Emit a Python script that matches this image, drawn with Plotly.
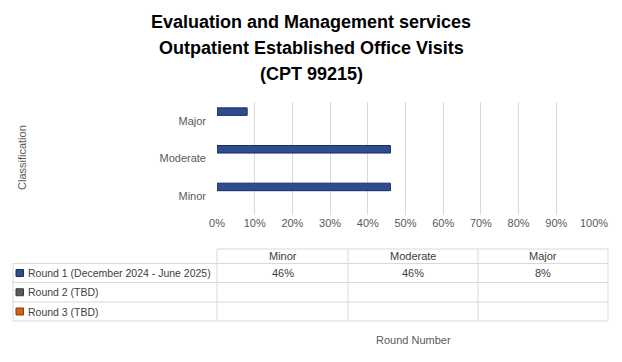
import plotly.graph_objects as go

W, H = 622, 362

categories = ["Minor", "Moderate", "Major"]
round_names = ["Round 1 (December 2024 - June 2025)", "Round 2 (TBD)", "Round 3 (TBD)"]
round1_values = [46, 46, 8]
round2_values = [None, None, None]
round3_values = [None, None, None]
round_colors = ["#2E4D8E", "#595959", "#D0601A"]
round_edges = ["#1B2D5A", "#3A3A3A", "#8A3A0A"]
x_ticks = list(range(0, 101, 10))
title_lines = ["Evaluation and Management services",
               "Outpatient Established Office Visits",
               "(CPT 99215)"]

def px(x):
    return x / W

def py(y):
    return 1 - y / H

series = [round1_values, round2_values, round3_values]
offsets = [0.145, -0.105, -0.355]

fig = go.Figure()
for name, vals, col, edge, off in zip(round_names, series, round_colors, round_edges, offsets):
    fig.add_trace(go.Bar(
        y=categories, x=vals, orientation="h", name=name,
        marker=dict(color=col, line=dict(color=edge, width=1)),
        width=0.2, offset=off, showlegend=False, hoverinfo="skip",
    ))

grid = "#D9D9D9"
tick_col = "#595959"
font_fam = "Liberation Sans, Arial, sans-serif"
title_fam = "Liberation Sans Narrow, Liberation Sans, Arial, sans-serif"

fig.update_layout(
    width=W, height=H, autosize=False,
    margin=dict(l=0, r=0, t=0, b=0, pad=0, autoexpand=False),
    paper_bgcolor="white", plot_bgcolor="white",
    barmode="overlay",
    font=dict(family=font_fam, size=11, color=tick_col),
    xaxis=dict(domain=[px(217), px(594)], range=[0, 100], automargin=False,
               tickvals=x_ticks, ticktext=[f"{v}%" for v in x_ticks],
               showgrid=True, gridcolor=grid, gridwidth=1,
               zeroline=False, showline=False, ticks="",
               tickfont=dict(size=11, color=tick_col), fixedrange=True),
    yaxis=dict(domain=[py(215), py(102)], range=[-0.5, 2.5], automargin=False,
               categoryorder="array", categoryarray=categories,
               showgrid=False, zeroline=False, showline=False, ticks="",
               ticklabelstandoff=10,
               tickfont=dict(size=11, color=tick_col), fixedrange=True),
)

annotations = []
for i, line in enumerate(title_lines):
    annotations.append(dict(
        x=px(311), y=py(22 + 26.2 * i), xref="paper", yref="paper",
        text=f"<b>{line}</b>", showarrow=False, xanchor="center", yanchor="middle",
        font=dict(family=title_fam, size=18, color="#000000")))

annotations.append(dict(
    x=px(22), y=py(158), xref="paper", yref="paper", text="Classification",
    showarrow=False, textangle=-90, xanchor="center", yanchor="middle",
    font=dict(size=11, color=tick_col)))

annotations.append(dict(
    x=px(413), y=py(340), xref="paper", yref="paper", text="Round Number",
    showarrow=False, xanchor="center", yanchor="middle",
    font=dict(size=11, color=tick_col)))

# data table
col_edges = [13, 217, 348, 478, 608]
row_edges = [249, 263.5, 282.5, 302, 321]
shapes = []
line_style = dict(color="#D9D9D9", width=1)
for y in row_edges:
    x0 = 217 if y == row_edges[0] else 13
    shapes.append(dict(type="line", xref="paper", yref="paper",
                       x0=px(x0), x1=px(608), y0=py(y), y1=py(y), line=line_style))
for x in col_edges:
    y0 = 263.5 if x == 13 else 249
    shapes.append(dict(type="line", xref="paper", yref="paper",
                       x0=px(x), x1=px(x), y0=py(y0), y1=py(321), line=line_style))

text_col = "#404040"
for j, cat in enumerate(categories):
    cx = (col_edges[j + 1] + col_edges[j + 2]) / 2
    annotations.append(dict(
        x=px(cx), y=py((row_edges[0] + row_edges[1]) / 2), xref="paper", yref="paper",
        text=cat, showarrow=False, xanchor="center", yanchor="middle",
        font=dict(size=11, color=text_col)))

for i, (name, vals, col, edge) in enumerate(zip(round_names, series, round_colors, round_edges)):
    cy = (row_edges[i + 1] + row_edges[i + 2]) / 2
    shapes.append(dict(type="rect", xref="paper", yref="paper",
                       x0=px(16), x1=px(23.5), y0=py(cy + 3.5), y1=py(cy - 3.5),
                       fillcolor=col, line=dict(color=edge, width=1)))
    annotations.append(dict(
        x=px(26), y=py(cy), xref="paper", yref="paper", text=name,
        showarrow=False, xanchor="left", yanchor="middle",
        font=dict(size=10.5, color=text_col)))
    for j, v in enumerate(vals):
        if v is None:
            continue
        cx = (col_edges[j + 1] + col_edges[j + 2]) / 2
        annotations.append(dict(
            x=px(cx), y=py(cy), xref="paper", yref="paper", text=f"{v}%",
            showarrow=False, xanchor="center", yanchor="middle",
            font=dict(size=11, color=text_col)))

fig.update_layout(annotations=annotations, shapes=shapes)

post = ("document.body.style.margin='0';"
        "document.body.style.overflow='hidden';"
        "document.documentElement.style.overflow='hidden';")
fig.write_html("out.html", post_script=post,
               config={"displayModeBar": False, "responsive": False})
